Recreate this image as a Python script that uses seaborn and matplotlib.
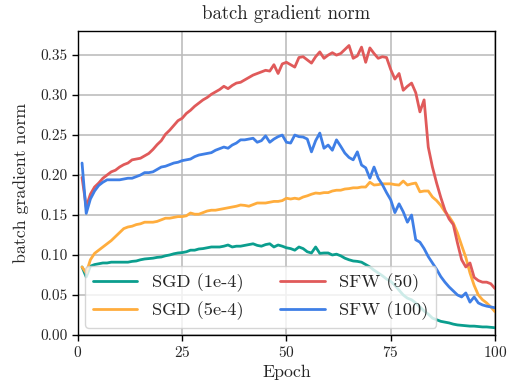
import numpy as np
import pandas as pd
import matplotlib
matplotlib.use("Agg")
import matplotlib.pyplot as plt
import seaborn as sns

# values, one per epoch (1..100)
epochs = list(range(1, 101))

sgd_1e4 = [
    0.085, 0.0725, 0.086, 0.088, 0.089, 0.090, 0.090, 0.091, 0.091, 0.091,
    0.091, 0.091, 0.092, 0.0925, 0.094, 0.095, 0.0955, 0.096, 0.097, 0.0975,
    0.099, 0.100, 0.1015, 0.1025, 0.103, 0.104, 0.106, 0.106, 0.1075, 0.108,
    0.109, 0.110, 0.110, 0.110, 0.111, 0.1125, 0.110, 0.111, 0.111, 0.112,
    0.113, 0.114, 0.112, 0.111, 0.113, 0.114, 0.110, 0.1125, 0.111, 0.109,
    0.108, 0.106, 0.110, 0.108, 0.104, 0.1025, 0.110, 0.102, 0.1025, 0.1025,
    0.100, 0.101, 0.099, 0.096, 0.094, 0.0925, 0.092, 0.091, 0.088, 0.085,
    0.081, 0.0775, 0.074, 0.070, 0.067, 0.062, 0.056, 0.050, 0.046, 0.044,
    0.040, 0.035, 0.030, 0.026, 0.021, 0.019, 0.017, 0.016, 0.015, 0.0135,
    0.0125, 0.012, 0.0115, 0.011, 0.011, 0.0105, 0.010, 0.010, 0.0095, 0.009,
]

sgd_5e4 = [
    0.085, 0.0775, 0.094, 0.102, 0.106, 0.110, 0.114, 0.118, 0.123, 0.128,
    0.133, 0.135, 0.136, 0.138, 0.139, 0.141, 0.141, 0.141, 0.142, 0.144,
    0.146, 0.146, 0.147, 0.148, 0.148, 0.149, 0.1525, 0.151, 0.151, 0.153,
    0.155, 0.156, 0.156, 0.157, 0.158, 0.159, 0.160, 0.161, 0.1625, 0.162,
    0.161, 0.163, 0.165, 0.165, 0.165, 0.166, 0.167, 0.167, 0.168, 0.171,
    0.170, 0.171, 0.170, 0.1725, 0.174, 0.176, 0.1775, 0.177, 0.178, 0.178,
    0.180, 0.181, 0.181, 0.1825, 0.183, 0.184, 0.184, 0.185, 0.185, 0.191,
    0.1875, 0.188, 0.189, 0.189, 0.189, 0.188, 0.1875, 0.1925, 0.1875, 0.189,
    0.190, 0.179, 0.180, 0.180, 0.1725, 0.168, 0.162, 0.154, 0.148, 0.140,
    0.1275, 0.112, 0.097, 0.0775, 0.062, 0.050, 0.044, 0.040, 0.035, 0.029,
]

sfw_50 = [
    0.197, 0.160, 0.176, 0.185, 0.190, 0.196, 0.200, 0.204, 0.206, 0.210,
    0.213, 0.215, 0.219, 0.220, 0.221, 0.224, 0.227, 0.232, 0.238, 0.243,
    0.251, 0.256, 0.262, 0.268, 0.271, 0.277, 0.281, 0.286, 0.290, 0.294,
    0.297, 0.301, 0.304, 0.307, 0.311, 0.308, 0.312, 0.315, 0.316, 0.319,
    0.322, 0.325, 0.327, 0.329, 0.331, 0.330, 0.338, 0.327, 0.339, 0.341,
    0.338, 0.335, 0.347, 0.348, 0.344, 0.340, 0.348, 0.354, 0.346, 0.350,
    0.353, 0.350, 0.352, 0.357, 0.362, 0.346, 0.349, 0.360, 0.341, 0.359,
    0.352, 0.346, 0.348, 0.347, 0.332, 0.320, 0.327, 0.306, 0.311, 0.315,
    0.303, 0.279, 0.294, 0.235, 0.210, 0.190, 0.172, 0.156, 0.145, 0.138,
    0.115, 0.094, 0.085, 0.090, 0.072, 0.068, 0.066, 0.066, 0.064, 0.058,
]

sfw_100 = [
    0.215, 0.152, 0.170, 0.180, 0.187, 0.191, 0.194, 0.194, 0.194, 0.194,
    0.195, 0.196, 0.196, 0.198, 0.200, 0.203, 0.203, 0.204, 0.207, 0.210,
    0.211, 0.213, 0.215, 0.216, 0.218, 0.219, 0.220, 0.223, 0.225, 0.226,
    0.227, 0.228, 0.231, 0.233, 0.235, 0.2335, 0.2375, 0.240, 0.244, 0.244,
    0.245, 0.246, 0.241, 0.243, 0.249, 0.241, 0.245, 0.248, 0.250, 0.241,
    0.240, 0.250, 0.248, 0.2475, 0.245, 0.229, 0.243, 0.2525, 0.2335, 0.2375,
    0.231, 0.244, 0.236, 0.2275, 0.222, 0.219, 0.229, 0.2125, 0.209, 0.196,
    0.210, 0.196, 0.188, 0.178, 0.169, 0.153, 0.164, 0.154, 0.141, 0.150,
    0.119, 0.116, 0.108, 0.098, 0.090, 0.082, 0.073, 0.066, 0.060, 0.055,
    0.050, 0.0475, 0.0525, 0.041, 0.0475, 0.040, 0.0375, 0.036, 0.035, 0.034,
]

labels = ["SGD (1e-4)", "SGD (5e-4)", "SFW (50)", "SFW (100)"]
colors = ["#0b9e8e", "#ffad3d", "#e05a5a", "#3f7fe6"]

df = pd.DataFrame({
    "epoch": epochs * 4,
    "value": sgd_1e4 + sgd_5e4 + sfw_50 + sfw_100,
    "run": sum([[lab] * len(epochs) for lab in labels], []),
})

sns.set_style("whitegrid")
plt.rcParams["font.family"] = ["cmr10", "DejaVu Serif"]
plt.rcParams["mathtext.fontset"] = "cm"
plt.rcParams["axes.formatter.use_mathtext"] = True
plt.rcParams["axes.unicode_minus"] = False

fig = plt.figure(figsize=(5.09, 3.89), dpi=100)
ax = fig.add_axes([0.153, 0.139, 0.8195, 0.781])

sns.lineplot(data=df, x="epoch", y="value", hue="run", hue_order=labels,
             palette=colors, linewidth=2.0, ax=ax)

ax.set_xlim(0, 100)
ax.set_ylim(0, 0.38)
ax.set_xticks([0, 25, 50, 75, 100])
ax.set_yticks(np.arange(0, 0.36, 0.05))
ax.yaxis.set_major_formatter(matplotlib.ticker.FormatStrFormatter("%.2f"))

ax.grid(True, color="#bdbdbd", linewidth=1.2)
for s in ax.spines.values():
    s.set_color("black")
    s.set_linewidth(1.0)
ax.tick_params(axis="both", direction="out", length=4, width=1, color="black",
               labelsize=11, bottom=True, left=True)

ax.set_title("batch gradient norm", fontsize=13.5, pad=9)
ax.set_xlabel("Epoch", fontsize=12.8, labelpad=3)
ax.set_ylabel("batch gradient norm", fontsize=12.8, labelpad=8)

leg = ax.legend(loc="lower left", ncol=2, fontsize=13.3, frameon=True,
                handlelength=2.4, columnspacing=2.0, borderaxespad=0.4)
leg.get_frame().set_edgecolor("#cccccc")
leg.get_frame().set_alpha(0.8)

fig.savefig("out.png", dpi=100)
